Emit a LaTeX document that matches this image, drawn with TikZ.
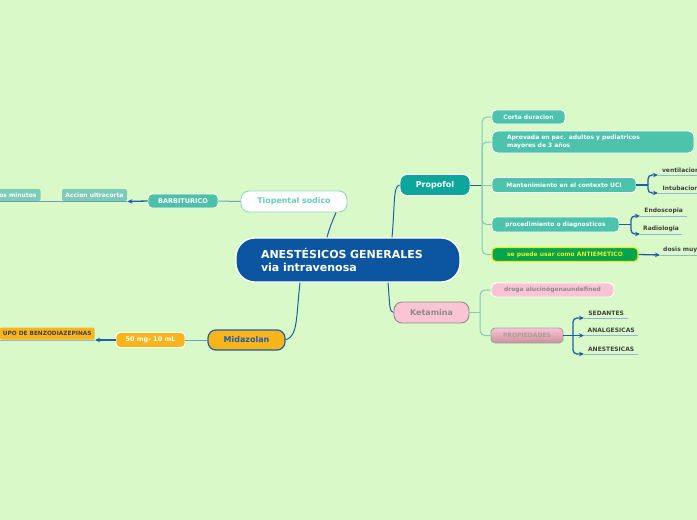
\documentclass[tikz,border=0pt]{standalone}
\usepackage{fontspec}
\setmainfont{DejaVu Sans}
\usetikzlibrary{arrows.meta,calc}
\definecolor{bg}{HTML}{D9FAC8}
\definecolor{cblue}{HTML}{0C56A1}
\definecolor{lineblue}{HTML}{1F5FA6}
\definecolor{greyblue}{HTML}{6C9FC2}
\definecolor{brteal}{HTML}{86C8BF}
\definecolor{ulblue}{HTML}{8EB9D3}
\definecolor{tioborder}{HTML}{8FD6CC}
\definecolor{tiotext}{HTML}{6CCABF}
\definecolor{barbfill}{HTML}{4DC0A8}
\definecolor{accfill}{HTML}{7DCCB8}
\definecolor{propfill}{HTML}{0CA69D}
\definecolor{pchild}{HTML}{4DC2AC}
\definecolor{antig}{HTML}{00A550}
\definecolor{antiy}{HTML}{F5EA1B}
\definecolor{pinkfill}{HTML}{F9C4D4}
\definecolor{greytext}{HTML}{8C8C8C}
\definecolor{orangefill}{HTML}{FBB41A}
\definecolor{lbltext}{HTML}{404040}
\begin{document}
\begin{tikzpicture}[x=1pt,y=-1pt,
  nd/.style={draw, inner sep=0pt, line width=0.9pt, rounded corners=4pt,
    font=\bfseries\fontsize{6}{7}\selectfont},
  big/.style={nd, rounded corners=8pt, font=\bfseries\fontsize{8}{9}\selectfont},
  pch/.style={nd, fill=pchild, draw=white, text=white},
  lbl/.style={anchor=south west, inner xsep=3pt, inner ysep=2.5pt, text=lbltext,
    font=\bfseries\fontsize{6}{7}\selectfont},
  mainc/.style={draw=lineblue, line width=1pt},
  brc/.style={draw=brteal, line width=1pt},
  ulc/.style={draw=ulblue, line width=1pt},
  arrc/.style={draw=lineblue, line width=1.3pt, -{Stealth[length=5pt,width=4.5pt]}},
  arrl/.style={draw=lineblue, line width=1.3pt}
]
\fill[bg] (0,0) rectangle (697,520);
\useasboundingbox (0,0) rectangle (697,520);

% central
\node[draw=white, line width=1.3pt, fill=cblue, rounded corners=19pt, text=white,
  text width=174pt, inner xsep=25pt, inner ysep=0pt, minimum height=44pt, align=left,
  font=\bfseries\fontsize{11}{13}\selectfont] (c) at (348,260)
  {ANESTÉSICOS GENERALES\\via intravenosa};

% left branch: Tiopental
\node[big, fill=white, draw=tioborder, text=tiotext, minimum width=106pt, minimum height=21pt,
  font=\bfseries\fontsize{7.9}{9}\selectfont] (tio) at (294,201.5) {Tiopental sodico};
\node[nd, fill=barbfill, draw=white, text=white, minimum width=70pt, minimum height=14pt,
  font=\bfseries\fontsize{6.5}{8}\selectfont] (barb) at (183,201) {BARBITURICO};
\node[nd, draw=none, fill=accfill, text=white, rounded corners=2pt, minimum width=65pt,
  minimum height=12pt] (acc) at (94.5,195) {Accion ultracorta};
\node[nd, draw=none, fill=accfill, text=white, rounded corners=2pt, anchor=east,
  inner xsep=4pt, minimum height=12pt] (mins) at (41,195) {os minutos};

% Midazolan
\node[big, fill=orangefill, draw=lineblue, line width=1.2pt, text=lineblue,
  minimum width=77pt, minimum height=20pt] (mid) at (246.5,340) {Midazolan};
\node[nd, fill=orangefill, draw=white, text=white, minimum width=69pt, minimum height=15pt,
  font=\bfseries\fontsize{6.5}{8}\selectfont] (fifty) at (150.5,340) {50 mg- 10 mL};
\node[nd, draw=none, fill=orangefill, text=lbltext, rounded corners=2pt, anchor=south east,
  inner xsep=3pt, minimum height=12pt, font=\bfseries\fontsize{5.8}{7}\selectfont]
  (benz) at (95,340) {UPO DE BENZODIAZEPINAS};

% Propofol
\node[big, fill=propfill, draw=white, text=white, minimum width=70pt, minimum height=21pt,
  rounded corners=7pt] (prop) at (435,185) {Propofol};
\node[pch, minimum width=73pt, minimum height=14pt] (corta) at (528.5,117) {Corta duracion};
\node[pch, minimum height=22pt, text width=172pt, inner xsep=15pt, align=left,
  rounded corners=6pt, font=\bfseries\fontsize{6}{8}\selectfont] (aprov) at (593,142)
  {Aprovada en pac. adultos y pediatricos\\mayores de 3 años};
\node[pch, minimum width=144pt, minimum height=15pt] (mant) at (564,185)
  {Mantenimiento en el contexto UCI};
\node[pch, minimum width=127pt, minimum height=15pt] (proc) at (555.5,224.5)
  {procedimiento o diagnosticos};
\node[nd, fill=antig, draw=antiy, line width=1.2pt, text=antiy, minimum width=146pt,
  minimum height=14pt] (anti) at (565,254.5) {se puede usar como ANTIEMETICO};

\node[lbl, minimum width=45pt] (vent) at (658,175) {ventilacion};
\node[lbl, minimum width=45pt] (intu) at (658,193) {Intubacion};
\node[lbl, minimum width=47pt] (endo) at (640,216) {Endoscopia};
\node[lbl, minimum width=40pt] (radi) at (640,234) {Radiologia};
\node[lbl, minimum width=40pt] (dosis) at (660,255) {dosis muy};

% Ketamina
\node[big, fill=pinkfill, draw=greytext, text=greytext, minimum width=75pt,
  minimum height=21pt] (ket) at (431.5,312.5) {Ketamina};
\node[nd, fill=pinkfill, draw=white, text=greytext, minimum width=123pt,
  minimum height=14pt, rounded corners=5pt] (droga) at (552.5,290) {droga alucinógenaundefined};
\node[nd, top color=pinkfill, bottom color=pinkfill!80!red!60!gray, draw=greytext!80,
  text=greytext!70!pink, minimum width=72pt, minimum height=15pt] (prop2) at (527,335.5)
  {PROPIEDADES};
\node[lbl, minimum width=44pt] (sed) at (584,318) {SEDANTES};
\node[lbl, minimum width=54pt] (anal) at (584,335.5) {ANALGESICAS};
\node[lbl, minimum width=54pt] (anes) at (584,354) {ANESTESICAS};

% underlines
\foreach \n in {vent,intu,endo,radi,dosis,sed,anal,anes,benz}
  \draw[ulc] (\n.south west) -- (\n.south east);
\draw[draw=greyblue, line width=1pt] (mins.south west) -- (acc.south east);

% main connectors
\draw[mainc] ($(c.north)+(-21,0)$) .. controls (330,226) and (333,220) .. ($(tio.south)+(42,0)$);
\draw[mainc] ($(c.south)+(-48,0)$) .. controls (296,318) and (298,336) .. (mid.east);
\draw[mainc] ($(c.north)+(44,0)$) .. controls (395,205) and (393,186) .. (prop.west);
\draw[mainc] ($(c.south)+(40,0)$) .. controls (390,305) and (389,312) .. (ket.west);

\draw[draw=greyblue, line width=1pt] (tio.west) -- (barb.east);
\draw[arrc] (barb.west) -- (acc.south east);
\draw[draw=greyblue, line width=1pt] (mid.west) -- (fifty.east);
\draw[arrc] (fifty.west) -- (benz.south east);

% Propofol bracket
\coordinate (pb) at (482,185);
\draw[mainc] (prop.east) -- (pb);
\foreach \n in {corta,aprov,proc,anti}
  \draw[brc, rounded corners=5pt] (pb) |- (\n.west);
\draw[brc] (pb) -- (mant.west);

% Ketamina bracket
\coordinate (kb) at (480,312.5);
\draw[brc] (ket.east) -- (kb);
\draw[brc, rounded corners=5pt] (kb) |- (droga.west);
\draw[brc, rounded corners=5pt] (kb) |- (prop2.west);

% arrow brackets
\coordinate (mb) at (648,185);
\draw[arrl] (mant.east) -- (mb);
\draw[arrc, rounded corners=4pt] (mb) |- (vent.south west);
\draw[arrc, rounded corners=4pt] (mb) |- (intu.south west);

\coordinate (qb) at (631,224.5);
\draw[arrl] (proc.east) -- (qb);
\draw[arrc, rounded corners=4pt] (qb) |- (endo.south west);
\draw[arrc, rounded corners=4pt] (qb) |- (radi.south west);

\draw[arrc] (anti.east) -- (dosis.south west);

\coordinate (sb) at (573,335.5);
\draw[arrl] (prop2.east) -- (sb);
\draw[arrc, rounded corners=4pt] (sb) |- (sed.south west);
\draw[arrc] (sb) -- (anal.south west);
\draw[arrc, rounded corners=4pt] (sb) |- (anes.south west);
\end{tikzpicture}
\end{document}
